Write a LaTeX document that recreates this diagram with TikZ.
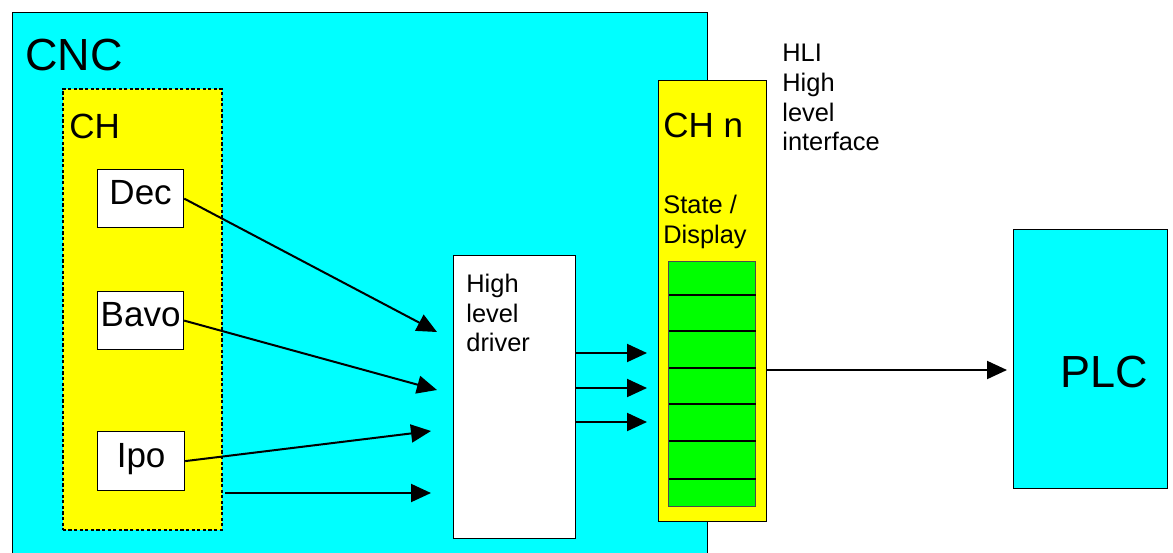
\documentclass[tikz,border=0pt]{standalone}
\usepackage{fontspec}
\setmainfont{Liberation Sans}
\usepackage{tikz}
\usetikzlibrary{arrows.meta,positioning}
\definecolor{cncblue}{HTML}{00FFFF}
\definecolor{chyellow}{HTML}{FFFF00}
\definecolor{stgreen}{HTML}{00FF00}

\begin{document}
\begin{tikzpicture}[x=0.5pt,y=-0.5pt,
  box/.style={draw=black,line width=0.6pt,inner sep=0pt,anchor=north west},
  lbl/.style={inner sep=0pt,anchor=base west},
  small/.style={font=\fontsize{12.7}{14.85}\selectfont},
  mid/.style={font=\fontsize{17.5}{21}\selectfont},
  big/.style={font=\fontsize{22.5}{27}\selectfont},
  unit/.style={box,fill=white,mid,minimum width=43pt,minimum height=29pt,
    text height=0.72em,text depth=0.12em},
  flow/.style={line width=1pt,-{Triangle[length=10pt,width=9pt]}}]
% canvas in pixels of the original: 1173 x 552, y runs down
\useasboundingbox (0,0) rectangle (1173,552);
\clip (0,0) rectangle (1173,552);

% ---- CNC and its channel -------------------------------------------------
\node[box,fill=cncblue,minimum width=347.5pt,minimum height=274pt] (cnc) at (12,12) {};
\node[lbl,big] (cnctitle) at (25,70) {CNC};
\node[box,fill=chyellow,line width=0.8pt,dash pattern=on 1.6pt off 1.2pt,
  minimum width=79.5pt,minimum height=220.5pt] (ch) at (62,88) {};
\node[lbl,mid] (chtitle) at (69,138) {CH};
\node[unit] (dec) at (97,169) {Dec};
\node[unit,minimum height=29pt] (bavo) at (97,291) {Bavo};
\node[unit,minimum width=43.5pt,minimum height=29.5pt] (ipo) at (97,431) {Ipo};

% ---- driver --------------------------------------------------------------
\node[box,fill=white,minimum width=61pt,minimum height=141.5pt] (hld) at (453,255) {};
\node[small,inner sep=0pt,anchor=north west,align=left] (hldtext) at (466,273.5)
  {High\\level\\driver};

% ---- channel n with the state table --------------------------------------
\node[box,fill=chyellow,line width=0.7pt,minimum width=54pt,minimum height=220.5pt] (chn) at (658,80) {};
\node[lbl,mid] (chntitle) at (663,137) {CH n};
\node[small,inner sep=0pt,anchor=north west,align=left] (statetext) at (663,194.5)
  {State /\\Display};
\node[box,fill=stgreen,draw=black!70,minimum width=43.5pt,minimum height=122.5pt] (state) at (668,261) {};
\foreach \y in {295,331,368,404,441,479}
  \draw[line width=0.9pt] (669,\y) -- (756,\y);

\node[small,inner sep=0pt,anchor=north west,align=left] (hli) at (782,44)
  {HLI\\High\\level\\interface};

% ---- PLC -----------------------------------------------------------------
\node[box,fill=cncblue,minimum width=77pt,minimum height=129.5pt] (plc) at (1013,229) {};
\node[lbl,big] (plctitle) at (1060,387) {PLC};

% ---- connectors ----------------------------------------------------------
\coordinate (decin) at (437,332);
\coordinate (bavoin) at (437,390);
\coordinate (ipoin) at (431,431);
\coordinate (chout) at (225,493);
\coordinate (chin) at (431,493);
\draw[flow] (dec.east) -- (decin);
\draw[flow] (bavo.east) -- (bavoin);
\draw[flow] (ipo.east) -- (ipoin);
\draw[flow] (chout) -- (chin);
\foreach \y [count=\i] in {353,388,422} {
  \coordinate (out\i) at (647,\y);
  \draw[flow] (hld.east |- out\i) -- (out\i);
}
\coordinate (plcin) at (1007,370);
\draw[flow] (chn.east |- plcin) -- (plcin);
\end{tikzpicture}
\end{document}
